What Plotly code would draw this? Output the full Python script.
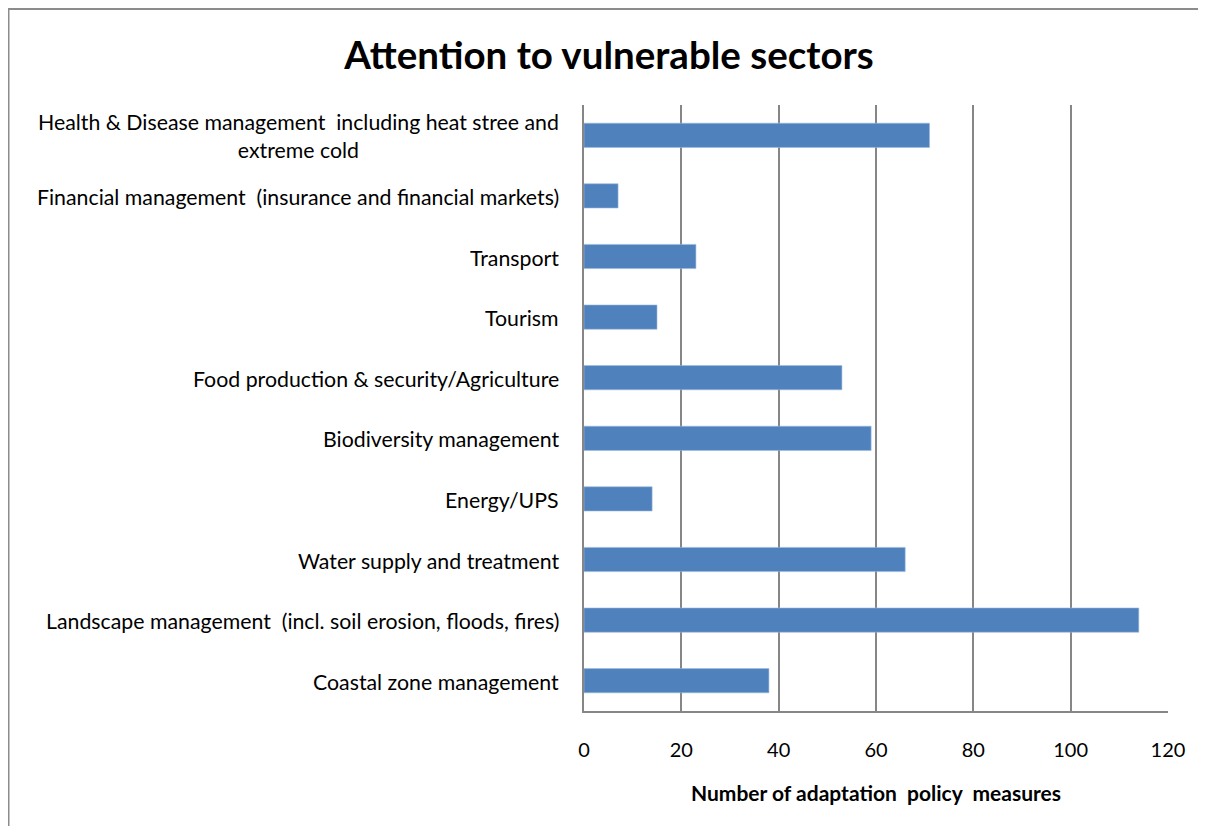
import plotly.graph_objects as go

categories = [
    "Coastal zone management",
    "Landscape management  (incl. soil erosion, floods, fires)",
    "Water supply and treatment",
    "Energy/UPS",
    "Biodiversity management",
    "Food production & security/Agriculture",
    "Tourism",
    "Transport",
    "Financial management  (insurance and financial markets)",
    "Health & Disease management  including heat stree and<br>extreme cold",
]
values = [38, 114, 66, 14, 59, 53, 15, 23, 7, 71]
x_ticks = [0, 20, 40, 60, 80, 100, 120]

# the page body adds an 8px offset, so the figure is 8px smaller
W, H = 1198, 818
L, R, T, B = 576, 38, 97, 115
pw, ph = W - L - R, H - T - B

FONT = "Lato"
GRID = "#868686"

fig = go.Figure()
fig.add_trace(go.Bar(
    y=categories, x=values, orientation="h",
    marker=dict(color="#4F81BD", line=dict(color="#9DB9DD", width=0.6)),
    showlegend=False,
))

annotations = []
for c in categories:
    annotations.append(dict(
        x=0, xref="paper", y=c, yref="y", text=c,
        xanchor="right", yanchor="middle", align="center",
        xshift=-23, yshift=-1, showarrow=False,
        font=dict(family=FONT, size=21.3, color="#000000"),
    ))

fig.update_layout(
    width=W, height=H,
    margin=dict(l=L, r=R, t=T, b=B),
    paper_bgcolor="white", plot_bgcolor="white",
    bargap=0.6,
    title=dict(text="<b>Attention to vulnerable sectors</b>", x=601 / W,
               xref="container", xanchor="center", y=1 - 48 / H, yref="container", yanchor="middle",
               font=dict(family=FONT, size=38.5, color="#000000")),
    xaxis=dict(
        range=[0, 120], tickvals=x_ticks, ticktext=[str(v) for v in x_ticks],
        showgrid=True, gridcolor=GRID, gridwidth=1.5,
        showline=True, linecolor=GRID, linewidth=1.5, mirror=False,
        zeroline=False, ticks="", ticklabelstandoff=20,
        tickfont=dict(family=FONT, size=20, color="#000000"),
        title=dict(text="<b>Number of adaptation  policy  measures</b>", standoff=27,
                   font=dict(family=FONT, size=21, color="#000000")),
        fixedrange=True,
    ),
    yaxis=dict(
        showticklabels=False, showgrid=False, ticks="",
        showline=True, linecolor=GRID, linewidth=1.5,
        fixedrange=True,
    ),
    annotations=annotations,
    shapes=[
        dict(type="line", xref="paper", yref="paper",
             x0=(0 - L) / pw, x1=(W + 5 - L) / pw, y0=(H - B - 1) / ph, y1=(H - B - 1) / ph,
             line=dict(color="#8c8c8c", width=2)),
        dict(type="line", xref="paper", yref="paper",
             x0=(0.5 - L) / pw, x1=(0.5 - L) / pw, y0=(H - B - 0.5) / ph, y1=(-B - 5) / ph,
             line=dict(color="#8c8c8c", width=2)),
    ],
)

fig.write_html("out.html")
